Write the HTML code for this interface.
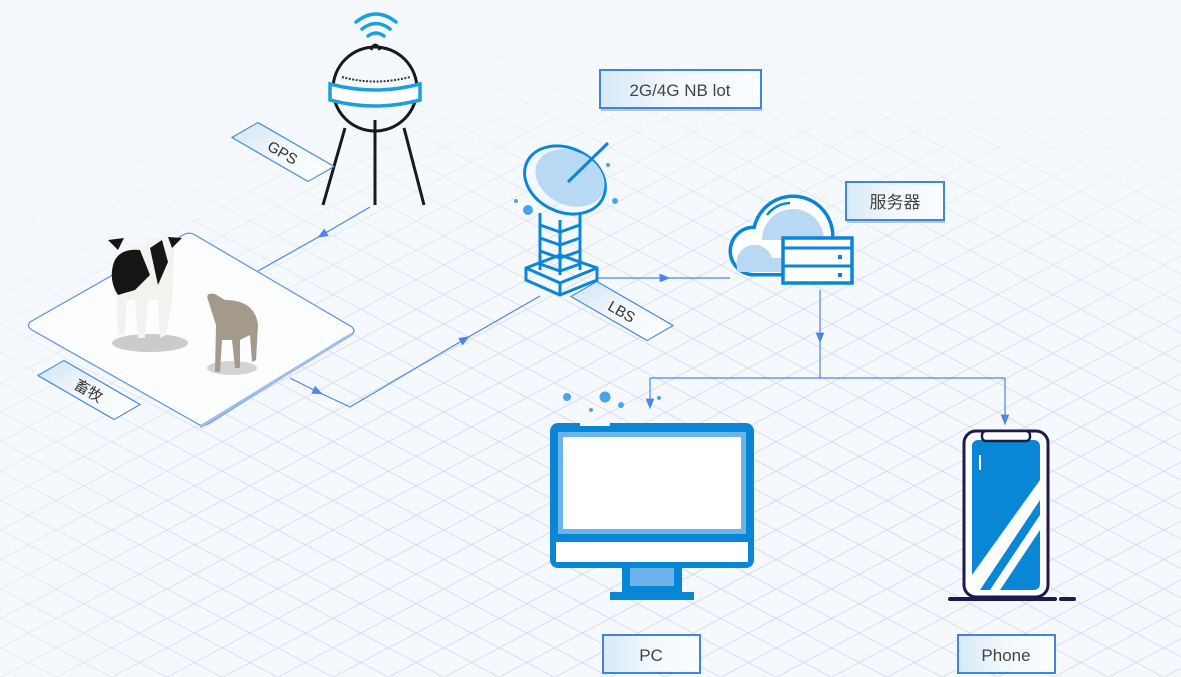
<!DOCTYPE html>
<html><head><meta charset="utf-8"><style>
html,body{margin:0;padding:0;background:#f5f9fd;}
svg{display:block;font-family:"Liberation Sans","Noto Sans CJK SC",sans-serif;}
</style></head><body>
<svg width="1181" height="677" viewBox="0 0 1181 677" xmlns="http://www.w3.org/2000/svg">
<defs>
<pattern id="g1" width="26" height="26" patternUnits="userSpaceOnUse" patternTransform="rotate(62)">
<line x1="0" y1="0" x2="0" y2="26" stroke="#cbd1d8" stroke-width="1.4"/></pattern>
<pattern id="g2" width="26" height="26" patternUnits="userSpaceOnUse" patternTransform="rotate(-62)">
<line x1="0" y1="0" x2="0" y2="26" stroke="#cbd1d8" stroke-width="1.4"/></pattern>
<radialGradient id="fade" cx="0.6" cy="0.85" r="0.8">
<stop offset="0" stop-color="#f5f9fd" stop-opacity="0"/>
<stop offset="0.55" stop-color="#f5f9fd" stop-opacity="0.1"/>
<stop offset="1" stop-color="#f5f9fd" stop-opacity="0.95"/></radialGradient>
<linearGradient id="lbl" x1="0" x2="1"><stop offset="0" stop-color="#d8e9f8"/><stop offset="0.5" stop-color="#f3f8fd"/><stop offset="1" stop-color="#fbfdff"/></linearGradient>
<marker id="ar" viewBox="0 0 10 10" refX="5" refY="5" markerWidth="9" markerHeight="9" orient="auto-start-reverse"><path d="M0,1 L10,5 L0,9 Z" fill="#4a86e8"/></marker>
</defs>
<rect width="1181" height="677" fill="#f5f9fd"/>
<rect width="1181" height="677" fill="url(#g1)"/>
<rect width="1181" height="677" fill="url(#g2)"/>
<rect width="1181" height="677" fill="url(#fade)"/>

<!-- platform -->
<path d="M30,322 L185,234 Q190,232 195,235 L352,327 Q356,331 352,334 L210,423 Q204,427 198,424 L32,330 Q26,326 30,322 Z" fill="#fbfdff" stroke="#5b8fe6" stroke-width="1.2"/>
<path d="M200,427 L352,334" stroke="#9dbcef" stroke-width="3" fill="none"/>

<!-- connectors -->
<g stroke="#4a86e8" stroke-width="1.2" fill="none">
<path d="M370,207 L322,235" marker-end="url(#ar)"/><path d="M322,235 L258,271"/>
<path d="M290,378 L318,392" marker-end="url(#ar)"/><path d="M318,392 L350,407 L465,339" marker-end="url(#ar)"/><path d="M465,339 L540,296"/>
<path d="M598,278 L665,278" marker-end="url(#ar)"/><path d="M665,278 L730,278"/>
<path d="M820,290 L820,338" marker-end="url(#ar)"/><path d="M820,338 L820,378"/>
<path d="M650,378 L1005,378"/>
<path d="M650,378 L650,404" marker-end="url(#ar)"/>
<path d="M1005,378 L1005,420" marker-end="url(#ar)"/>
</g>

<!-- GPS tower -->
<g fill="none" stroke="#1aa0dc" stroke-width="3.5" stroke-linecap="round">
<path d="M356,22 Q376,6 396,22"/><path d="M362,29 Q376,18 390,29"/><path d="M368,36 Q376,30 384,36"/>
</g>
<g stroke="#1a1a1a" stroke-width="3" fill="none">
<circle cx="375" cy="89" r="42"/>
<path d="M371,50 Q375,40 380,50"/>
<line x1="345" y1="128" x2="323" y2="205"/><line x1="375" y1="120" x2="375" y2="205"/><line x1="404" y1="128" x2="424" y2="205"/>
</g>
<path d="M342,77 Q375,86 410,77" stroke="#333" stroke-width="2" stroke-dasharray="2 1.5" fill="none"/>
<path d="M330,84 Q375,96 420,84 L420,100 Q375,112 330,100 Z" fill="#fff" stroke="#1aa0dc" stroke-width="3.5"/>

<!-- dish tower -->
<g stroke="#0a86d6" stroke-width="3" fill="none">
<ellipse cx="565" cy="180" rx="42" ry="32" transform="rotate(25 565 180)"/>
<ellipse cx="570" cy="178" rx="36" ry="27" fill="#b7d9f4" stroke="none" transform="rotate(25 570 178)"/>
<line x1="568" y1="182" x2="608" y2="143"/>
<path d="M540,213 L540,270 M580,213 L580,270 M560,220 L560,275"/>
<path d="M540,225 L560,232 L580,225 M540,238 L560,245 L580,238 M540,251 L560,258 L580,251 M540,264 L560,271 L580,264"/>
<path d="M526,268 L560,255 L597,268 L597,280 L560,295 L526,280 Z M526,268 L560,283 L597,268 M560,283 L560,295"/>
</g>
<g fill="#4aa5e8"><circle cx="528" cy="210" r="5"/><circle cx="516" cy="201" r="2"/><circle cx="615" cy="201" r="3"/><circle cx="608" cy="165" r="2"/></g>

<!-- cloud server -->
<g stroke="#0a86d6" stroke-width="7" fill="none">
<circle cx="793" cy="236" r="38"/><circle cx="754" cy="251" r="22"/><rect x="754" y="245" width="60" height="28"/>
</g>
<g fill="#ffffff">
<circle cx="793" cy="236" r="38"/><circle cx="754" cy="251" r="22"/><rect x="754" y="245" width="60" height="28"/>
</g>
<g fill="#b7d9f4">
<path d="M762,240 A31,31 0 0 1 824,240 Z"/><path d="M737,268 A18,18 0 0 1 772,258 L790,258 L790,272 L737,272 Z"/>
</g>
<path d="M767,215 A30,30 0 0 1 790,203" stroke="#0a86d6" stroke-width="2.5" fill="none"/>
<rect x="783" y="238" width="69" height="45" fill="#fff" stroke="#0a86d6" stroke-width="3.5"/>
<line x1="783" y1="248" x2="852" y2="248" stroke="#0a86d6" stroke-width="3"/>
<line x1="783" y1="266" x2="852" y2="266" stroke="#0a86d6" stroke-width="3"/>
<rect x="838" y="255" width="4" height="4" fill="#0a86d6"/><rect x="838" y="273" width="4" height="4" fill="#0a86d6"/>

<!-- PC -->
<g fill="#4aa5e8"><circle cx="567" cy="397" r="4"/><circle cx="605" cy="397" r="5.5"/><circle cx="621" cy="405" r="3"/><circle cx="591" cy="410" r="2"/><circle cx="659" cy="398" r="2"/></g>
<rect x="550" y="423" width="204" height="145" rx="8" fill="#0a86d6"/>
<rect x="580" y="420" width="30" height="6" fill="#f5f9fd"/>
<rect x="558" y="432" width="188" height="102" fill="#6cb3ea"/>
<rect x="563" y="437" width="178" height="92" fill="#fff"/>
<rect x="556" y="542" width="192" height="20" fill="#fff"/>
<rect x="622" y="568" width="60" height="24" fill="#0a86d6"/>
<rect x="630" y="568" width="44" height="18" fill="#6cb3ea"/>
<rect x="610" y="592" width="84" height="8" fill="#0a86d6"/>

<!-- Phone -->
<rect x="964" y="431" width="84" height="166" rx="12" fill="#fff" stroke="#1d1b4b" stroke-width="3"/>
<rect x="972" y="440" width="68" height="150" rx="6" fill="#0a86d6"/>
<rect x="982" y="431" width="48" height="10" rx="4" fill="#fff" stroke="#1d1b4b" stroke-width="2.5"/>
<path d="M972,575 L1040,480 L1040,500 L980,590 L972,590 Z" fill="#fff"/>
<path d="M990,590 L1040,515 L1040,530 L1000,590 Z" fill="#fff"/>
<line x1="980" y1="455" x2="980" y2="470" stroke="#fff" stroke-width="2"/>
<line x1="950" y1="599" x2="1055" y2="599" stroke="#1d1b4b" stroke-width="4" stroke-linecap="round"/>
<line x1="1061" y1="599" x2="1074" y2="599" stroke="#1d1b4b" stroke-width="4" stroke-linecap="round"/>

<!-- animals (simplified) -->
<ellipse cx="150" cy="343" rx="38" ry="9" fill="#999" opacity="0.5"/>
<ellipse cx="232" cy="368" rx="25" ry="7" fill="#aaa" opacity="0.5"/>
<path d="M114,262 Q122,248 145,246 L150,238 L175,240 L172,300 L166,335 L160,338 L158,300 L148,300 L145,338 L138,338 L135,300 L127,300 L125,335 L118,335 L117,300 Q110,285 114,262 Z" fill="#f4f2ee"/>
<path d="M114,262 Q120,248 140,250 L150,275 L135,290 L118,295 Q108,280 114,262 Z M150,248 L162,240 L168,262 L158,285 Z" fill="#151515"/>
<path d="M108,240 L124,238 L118,250 Z M168,237 L182,238 L172,248 Z" fill="#151515"/>
<path d="M208,300 Q205,292 215,294 L225,300 Q255,300 258,325 L256,360 L252,362 L250,335 L240,340 L240,368 L235,368 L232,340 L222,340 L220,372 L215,372 L216,325 Z" fill="#a39a8c"/>

<!-- labels -->
<g>
<rect x="600" y="70" width="161" height="38" fill="url(#lbl)" stroke="#3e86dd" stroke-width="2"/>
<line x1="601" y1="110" x2="762" y2="110" stroke="#b8c5d3" stroke-width="2"/>
<text x="680" y="96" text-anchor="middle" font-size="17" fill="#444">2G/4G NB lot</text>
<rect x="846" y="182" width="98" height="38" fill="url(#lbl)" stroke="#3e86dd" stroke-width="2"/>
<line x1="847" y1="222" x2="945" y2="222" stroke="#b8c5d3" stroke-width="2"/>
<text x="895" y="208" text-anchor="middle" font-size="17" fill="#444">服务器</text>
<rect x="603" y="635" width="97" height="38" fill="url(#lbl)" stroke="#3e86dd" stroke-width="2"/>
<text x="651" y="661" text-anchor="middle" font-size="17" fill="#444">PC</text>
<rect x="958" y="635" width="97" height="38" fill="url(#lbl)" stroke="#3e86dd" stroke-width="2"/>
<text x="1006" y="661" text-anchor="middle" font-size="17" fill="#444">Phone</text>
</g>
<g transform="translate(283,152) rotate(30)">
<rect x="-44" y="-13" width="88" height="26" fill="url(#lbl)" stroke="#3e86dd" stroke-width="1.2" transform="skewX(-30)"/>
<text x="0" y="6" text-anchor="middle" font-size="15" fill="#333">GPS</text></g>
<g transform="translate(622,311) rotate(30)">
<rect x="-44" y="-13" width="88" height="26" fill="url(#lbl)" stroke="#3e86dd" stroke-width="1.2" transform="skewX(-30)"/>
<text x="0" y="6" text-anchor="middle" font-size="15" fill="#333">LBS</text></g>
<g transform="translate(89,390) rotate(30)">
<rect x="-44" y="-13" width="88" height="26" fill="url(#lbl)" stroke="#3e86dd" stroke-width="1.2" transform="skewX(-30)"/>
<text x="0" y="6" text-anchor="middle" font-size="15" fill="#333">畜牧</text></g>
</svg>
</body></html>
